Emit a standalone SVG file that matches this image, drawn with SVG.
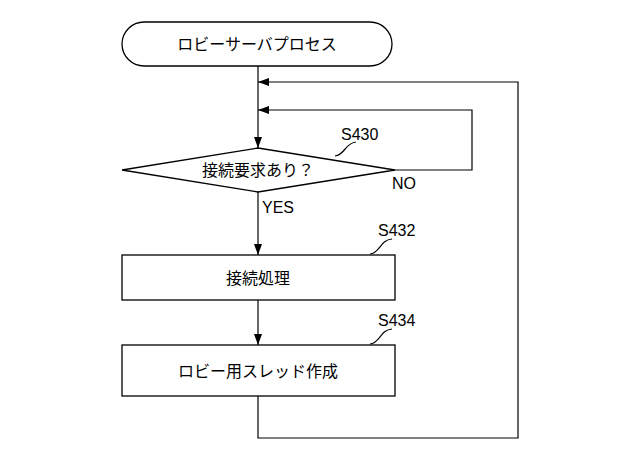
<svg xmlns="http://www.w3.org/2000/svg" width="640" height="457" viewBox="0 0 640 457">
<style>
.s{fill:#fff;stroke:#000;stroke-width:1.3}
.l{fill:none;stroke:#000;stroke-width:1.2}
text{font-family:"Liberation Sans","Noto Sans CJK JP",sans-serif;font-size:16px;fill:#000}
.c{text-anchor:middle}
</style>
<defs><marker id="a" markerWidth="11" markerHeight="8" refX="11" refY="4" orient="auto" markerUnits="userSpaceOnUse"><path d="M0,0L11,4L0,8Z" fill="#000"/></marker></defs>
<g id="connectors">
<path class="l" d="M258,66V148" marker-end="url(#a)"/>
<path class="l" d="M258,192V255" marker-end="url(#a)"/>
<path class="l" d="M258,300V345" marker-end="url(#a)"/>
<path class="l" d="M395,170H472V110H258" marker-end="url(#a)"/>
<path class="l" d="M258,396V438H518V82H258" marker-end="url(#a)"/>
<path class="l" d="M335,156C345,155 345,143 356,142"/>
<path class="l" d="M370,254C380,253 380,240 392,239"/>
<path class="l" d="M370,344C380,343 380,330 392,329"/>
</g>
<g id="start"><rect class="s" x="122" y="22" width="270" height="44" rx="22"/><text class="c" x="257" y="50">ロビーサーバプロセス</text></g>
<g id="S430"><path class="s" d="M122,170L258,148L395,170L258,192Z"/><text class="c" x="258" y="176">接続要求あり？</text><text x="341" y="140">S430</text><text x="392" y="189">NO</text><text x="262" y="213">YES</text></g>
<g id="S432"><rect class="s" x="122" y="255" width="273" height="45"/><text class="c" x="258" y="284">接続処理</text><text x="378" y="236">S432</text></g>
<g id="S434"><rect class="s" x="122" y="345" width="273" height="51"/><text class="c" x="258" y="377">ロビー用スレッド作成</text><text x="378" y="326">S434</text></g>
</svg>
